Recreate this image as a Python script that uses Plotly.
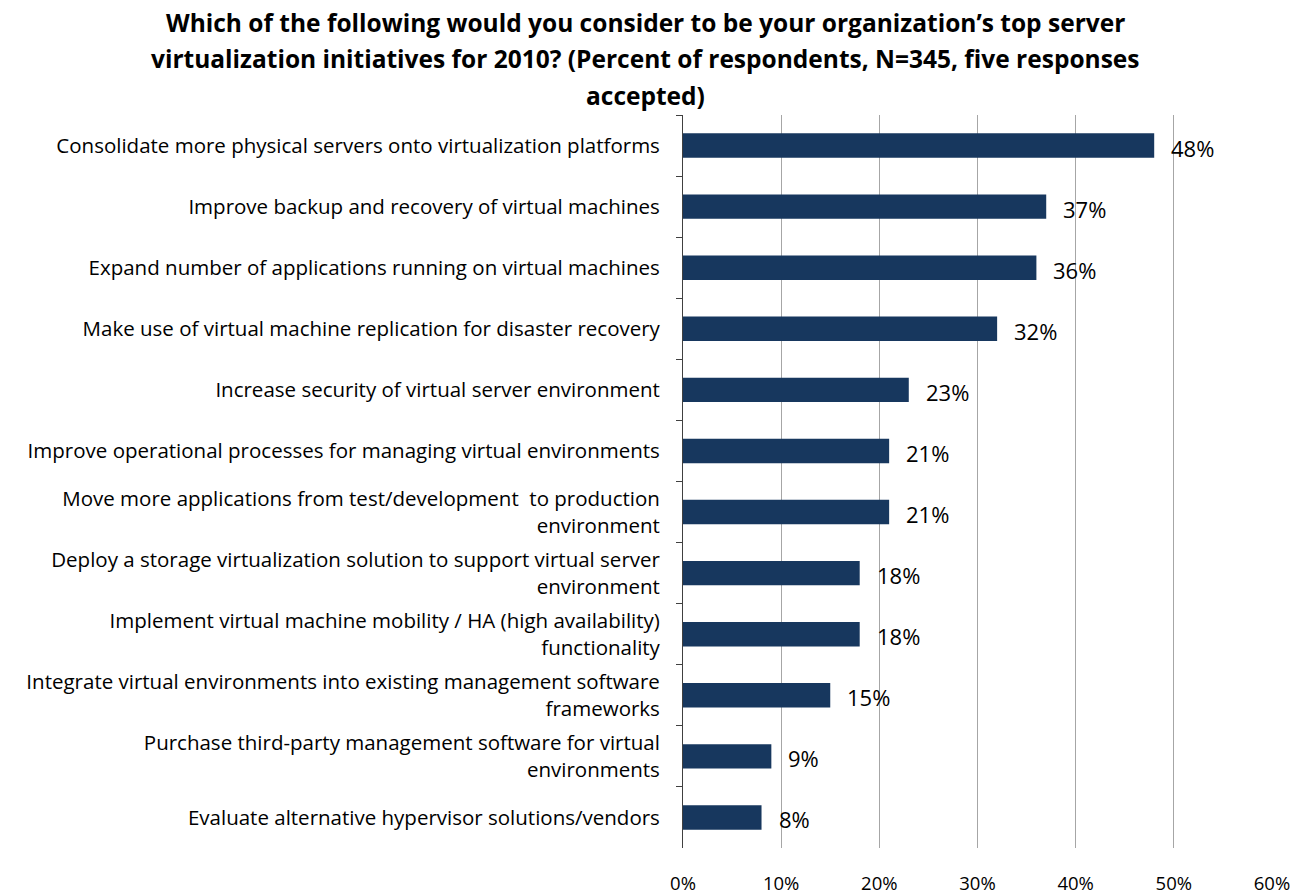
import plotly.graph_objects as go

categories = [
    "Consolidate more physical servers onto virtualization platforms",
    "Improve backup and recovery of virtual machines",
    "Expand number of applications running on virtual machines",
    "Make use of virtual machine replication for disaster recovery",
    "Increase security of virtual server environment",
    "Improve operational processes for managing virtual environments",
    "Move more applications from test/development  to production<br>environment",
    "Deploy a storage virtualization solution to support virtual server<br>environment",
    "Implement virtual machine mobility / HA (high availability)<br>functionality",
    "Integrate virtual environments into existing management software<br>frameworks",
    "Purchase third-party management software for virtual<br>environments",
    "Evaluate alternative hypervisor solutions/vendors",
]
values = [48, 37, 36, 32, 23, 21, 21, 18, 18, 15, 9, 8]
x_ticks = [0, 10, 20, 30, 40, 50, 60]
x_tick_labels = ["0%", "10%", "20%", "30%", "40%", "50%", "60%"]
title_lines = [
    "Which of the following would you consider to be your organization\u2019s top server",
    "virtualization initiatives for 2010? (Percent of respondents, N=345, five responses",
    "accepted)",
]

FONT = "Open Sans"
BAR = "#17375E"

fig = go.Figure()
fig.add_trace(go.Bar(
    y=categories, x=values, orientation="h",
    marker=dict(color=BAR, line=dict(width=0)),
    hoverinfo="skip",
))

for c, v in zip(categories, values):
    fig.add_annotation(x=v, y=c, text=f"{v}%", showarrow=False,
                       xanchor="left", xshift=15, yshift=-2,
                       font=dict(family=FONT, size=22, color="#000000"))

for i, t in enumerate(title_lines):
    fig.add_annotation(xref="paper", yref="paper", x=(645 - 683) / (1272 - 683), y=1,
                       yanchor="middle", yshift=115 - 22 - i * 36.5,
                       text=f"<b>{t}</b>", showarrow=False, xanchor="center",
                       font=dict(family=FONT, size=24.5, color="#000000"))

fig.update_layout(
    width=1300, height=895,
    margin=dict(l=683, r=28, t=115, b=47),
    paper_bgcolor="white", plot_bgcolor="white",
    showlegend=False,
    bargap=0.6,
    font=dict(family=FONT, color="#000000"),
)
fig.update_xaxes(
    range=[0, 60], tickvals=x_ticks, ticktext=x_tick_labels,
    showgrid=True, gridcolor="#A6A6A6", gridwidth=1,
    zeroline=False, showline=False, ticks="",
    tickfont=dict(family=FONT, size=18.5), ticklabelstandoff=22,
    automargin=False, fixedrange=True,
)
fig.update_yaxes(
    autorange="reversed", type="category",
    showline=True, linecolor="#404040", linewidth=1,
    ticks="outside", tickson="boundaries", ticklen=6, tickcolor="#404040",
    tickfont=dict(family=FONT, size=20.5), ticklabelstandoff=18,
    automargin=False, showgrid=False, fixedrange=True,
)

fig.write_html("out.html")
